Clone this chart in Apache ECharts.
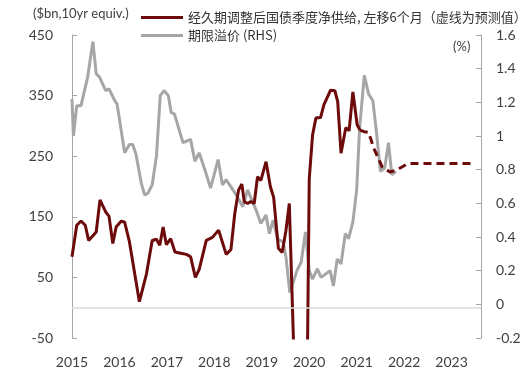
<!DOCTYPE html>
<html>
<head>
<meta charset="utf-8">
<script src="https://cdn.jsdelivr.net/npm/echarts@6/dist/echarts.min.js"></script>
<style>
html,body{margin:0;padding:0;background:#fff;}
#c{width:524px;height:389px;}
</style>
</head>
<body>
<div id="c"></div>
<script>
// ---- data (decimal years) ----
const supplyDates = [2015.00,2015.10,2015.19,2015.28,2015.35,2015.51,2015.59,2015.71,2015.78,2015.86,2015.93,
  2016.04,2016.11,2016.21,2016.42,2016.57,2016.69,2016.78,2016.85,2016.92,2016.99,
  2017.08,2017.17,2017.29,2017.41,2017.50,2017.60,2017.68,2017.83,2017.96,
  2018.09,2018.25,2018.35,2018.43,2018.51,2018.58,2018.63,2018.70,2018.77,2018.84,2018.91,2018.98,
  2019.09,2019.18,2019.25,2019.35,2019.43,2019.51,2019.58,2019.67,2019.75,2019.83,2019.92,
  2020.00,2020.07,2020.14,2020.24,2020.31,2020.45,2020.54,2020.60,2020.67,2020.77,2020.84,2020.92,
  2021.01,2021.07];
const supplyValues = [84,136,143,136,111,125,178,158,151,106,133,
  143,141,109,10,56,111,113,103,133,104,
  114,92,90,88,84,50,63,111,116,
  128,88,96,155,194,204,175,172,175,172,216,210,
  241,200,182,98,91,128,172,-60,-300,-400,-400,
  212,285,313,314,335,359,358,340,255,297,292,356,
  302,293];
const forecastDates = [2021.07,2021.17,2021.24,2021.30,2021.35,2021.54,2021.70,2021.84,2022.08,2022.50,2023.00,2023.42];
const forecastValues = [293,290,290,278,265,232,224,227,238,238,238,238];

const premiumDates = [2015.00,2015.03,2015.10,2015.19,2015.33,2015.44,2015.51,2015.58,2015.71,2015.78,2015.90,2015.95,
  2016.11,2016.21,2016.28,2016.35,2016.46,2016.53,2016.60,2016.69,2016.78,2016.86,2016.94,
  2017.03,2017.09,2017.16,2017.34,2017.50,2017.59,2017.68,2017.80,2017.92,
  2018.08,2018.17,2018.25,2018.46,2018.60,2018.70,2018.88,2018.98,
  2019.09,2019.16,2019.24,2019.33,2019.45,2019.51,2019.59,2019.65,2019.74,2019.83,2019.92,
  2020.00,2020.07,2020.17,2020.25,2020.44,2020.51,2020.59,2020.67,2020.76,2020.83,2020.92,
  2021.00,2021.06,2021.16,2021.25,2021.34,2021.41,2021.50,2021.59,2021.67,2021.74,2021.83];
const premiumValues = [1.22,1.00,1.18,1.18,1.35,1.56,1.37,1.35,1.27,1.28,1.21,1.19,
  0.90,0.95,0.95,0.89,0.72,0.65,0.66,0.71,0.88,1.24,1.27,
  1.24,1.14,1.13,0.96,0.98,0.85,0.90,0.80,0.69,
  0.86,0.71,0.74,0.65,0.58,0.68,0.56,0.48,
  0.53,0.42,0.50,0.39,0.37,0.28,0.07,0.12,0.20,0.25,0.43,
  0.20,0.15,0.21,0.16,0.20,0.11,0.27,0.24,0.42,0.39,0.49,
  0.68,1.04,1.36,1.25,1.21,1.04,0.79,0.81,0.96,0.77,0.79];

const yearTicks = [2015,2016,2017,2018,2019,2020,2021,2022,2023];
const leftTicks = [-50,50,150,250,350,450];
const rightTicks = [-0.2,0,0.2,0.4,0.6,0.8,1,1.2,1.4,1.6];

const supplyName = '经久期调整后国债季度净供给, 左移6个月（虚线为预测值）';
const premiumName = '期限溢价 (RHS)';

const zip = (a, b) => a.map((x, i) => [x, b[i]]);
const RED = '#6d0a0a';
const GRAY = '#a6a6a6';
const numFont = 'Lato';

const chart = echarts.init(document.getElementById('c'), null, {renderer: 'canvas'});
chart.setOption({
  animation: false,
  backgroundColor: '#ffffff',
  grid: {left: 72, right: 43, top: 35, bottom: 51, containLabel: false},
  legend: {
    orient: 'vertical', left: 136, top: 6, itemWidth: 42, itemHeight: 3, itemGap: 5,
    icon: 'rect',
    data: [supplyName, premiumName],
    textStyle: {fontSize: 13, color: '#333', fontFamily: 'Noto Sans CJK SC'}
  },
  graphic: [
    {type: 'text', left: 33, top: 7, style: {text: '($bn,10yr equiv.)', fontSize: 13, fontFamily: numFont, fill: '#404040'}},
    {type: 'text', left: 453, top: 40, style: {text: '(%)', fontSize: 13, fontFamily: numFont, fill: '#404040'}}
  ],
  xAxis: {
    type: 'value', min: yearTicks[0], max: 2023.62, interval: 1,
    axisLine: {show: false}, axisTick: {show: false}, splitLine: {show: false},
    axisLabel: {
      showMaxLabel: false, margin: 17, fontSize: 14, color: '#404040', fontFamily: numFont,
      formatter: v => (yearTicks.indexOf(Math.round(v)) >= 0 && Math.abs(v - Math.round(v)) < 1e-6) ? String(Math.round(v)) : ''
    }
  },
  yAxis: [
    {
      type: 'value', min: leftTicks[0], max: leftTicks[leftTicks.length - 1], interval: 100,
      axisLine: {show: true, lineStyle: {color: '#a6a6a6', width: 1}},
      axisTick: {show: true, inside: true, length: 5, lineStyle: {color: '#a6a6a6'}},
      splitLine: {show: false},
      axisLabel: {margin: 19, fontSize: 14, color: '#404040', fontFamily: numFont}
    },
    {
      type: 'value', min: rightTicks[0], max: rightTicks[rightTicks.length - 1], interval: 0.2,
      position: 'right',
      axisLine: {show: true, lineStyle: {color: '#a6a6a6', width: 1}},
      axisTick: {show: true, inside: true, length: 5, lineStyle: {color: '#a6a6a6'}},
      splitLine: {show: false},
      axisLabel: {margin: 15, fontSize: 14, color: '#404040', fontFamily: numFont,
        formatter: v => String(Math.round(v * 10) / 10)}
    }
  ],
  series: [
    {
      name: premiumName, type: 'line', yAxisIndex: 1, data: zip(premiumDates, premiumValues),
      showSymbol: false, symbol: 'none', color: GRAY,
      lineStyle: {color: GRAY, width: 3}, z: 2
    },
    {
      name: supplyName, type: 'line', yAxisIndex: 0, data: zip(supplyDates, supplyValues),
      showSymbol: false, symbol: 'none', color: RED,
      lineStyle: {color: RED, width: 3}, z: 3,
      markLine: {
        silent: true, symbol: 'none', label: {show: false},
        lineStyle: {color: '#d9d9d9', width: 1.5, type: 'solid'},
        data: [{yAxis: 0}]
      }
    },
    {
      name: 'forecast', type: 'line', yAxisIndex: 0, data: zip(forecastDates, forecastValues),
      showSymbol: false, symbol: 'none', color: RED,
      lineStyle: {color: RED, width: 3, type: [8, 5]}, z: 3
    }
  ]
});
</script>
</body>
</html>
